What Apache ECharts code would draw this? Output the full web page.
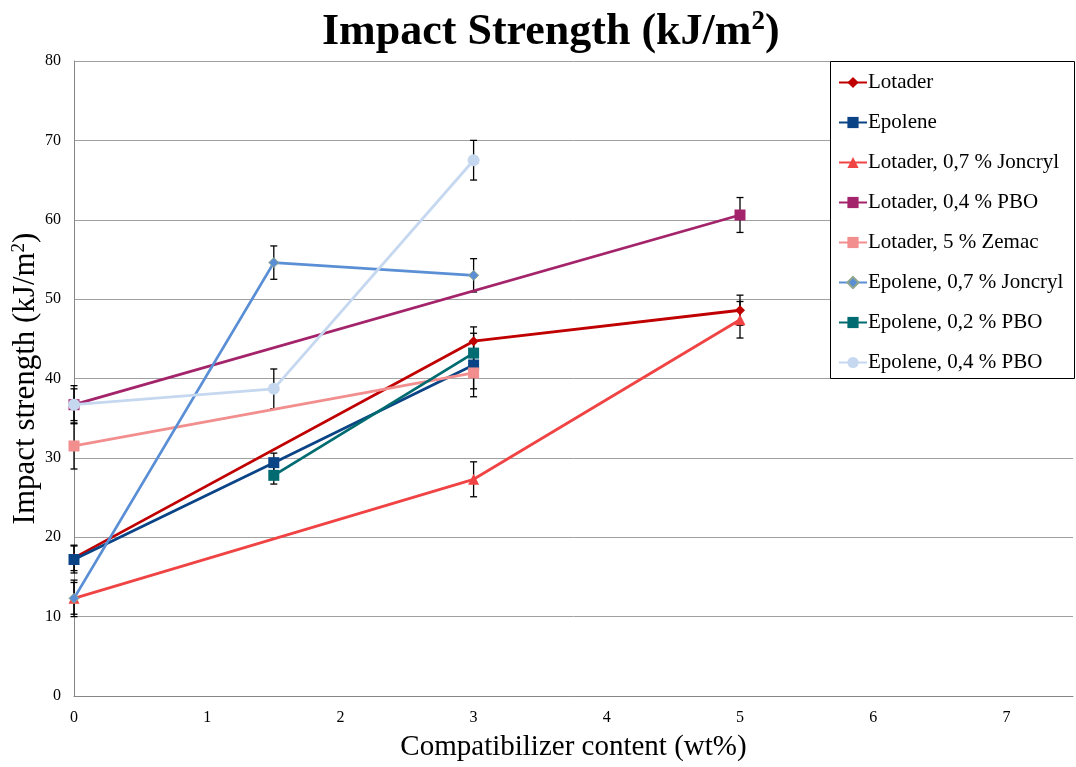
<!DOCTYPE html>
<html>
<head>
<meta charset="utf-8">
<script src="https://cdn.jsdelivr.net/npm/echarts@6/dist/echarts.min.js"></script>
<style>
  html, body { margin: 0; padding: 0; background: #fff; }
  #chart { width: 1076px; height: 767px; }
</style>
</head>
<body>
<div id="chart"></div>
<script>
// Impact strength vs. compatibilizer content, mean values with standard deviations
const xTicks = [0, 1, 2, 3, 4, 5, 6, 7];

const seriesNames = [
  'Lotader', 'Epolene', 'Lotader, 0,7 % Joncryl', 'Lotader, 0,4 % PBO',
  'Lotader, 5 % Zemac', 'Epolene, 0,7 % Joncryl', 'Epolene, 0,2 % PBO', 'Epolene, 0,4 % PBO'
];

const lotaderX = [0, 3, 5];
const lotaderY = [17.4, 44.7, 48.6];
const lotaderErr = [1.6, 1.8, 1.9];

const epoleneX = [0, 1.5, 3];
const epoleneY = [17.2, 29.4, 41.7];
const epoleneErr = [1.7, 1.2, 4.0];

const lotJoncrylX = [0, 3, 5];
const lotJoncrylY = [12.3, 27.3, 47.4];
const lotJoncrylErr = [2.3, 2.2, 2.3];

const lotPboX = [0, 5];
const lotPboY = [36.7, 60.6];
const lotPboErr = [2.4, 2.2];

const lotZemacX = [0, 3];
const lotZemacY = [31.5, 40.7];
const lotZemacErr = [2.9, 2.0];

const epJoncrylX = [0, 1.5, 3];
const epJoncrylY = [12.3, 54.6, 53.0];
const epJoncrylErr = [2.0, 2.1, 2.1];

const epPbo02X = [1.5, 3];
const epPbo02Y = [27.8, 43.2];
const epPbo02Err = [1.1, 1.5];

const epPbo04X = [0, 1.5, 3];
const epPbo04Y = [36.7, 38.7, 67.5];
const epPbo04Err = [2.0, 2.5, 2.5];

const colors = ['#C00000', '#0B4486', '#F04444', '#A3246A', '#F28E8E', '#5A8FD5', '#006B70', '#C5D8F0'];
const symbols = ['diamond', 'rect', 'triangle', 'rect', 'rect', 'diamond', 'rect', 'circle'];
const symbolSizes = [10, 11, 11, 11, 11, 10, 11, 12];

const allX = [lotaderX, epoleneX, lotJoncrylX, lotPboX, lotZemacX, epJoncrylX, epPbo02X, epPbo04X];
const allY = [lotaderY, epoleneY, lotJoncrylY, lotPboY, lotZemacY, epJoncrylY, epPbo02Y, epPbo04Y];
const allErr = [lotaderErr, epoleneErr, lotJoncrylErr, lotPboErr, lotZemacErr, epJoncrylErr, epPbo02Err, epPbo04Err];

const serif = '"Liberation Serif", "DejaVu Serif", serif';

const lineSeries = seriesNames.map((name, i) => ({
  name: name,
  type: 'line',
  data: allX[i].map((x, j) => [x, allY[i][j]]),
  symbol: symbols[i],
  symbolSize: symbolSizes[i],
  showAllSymbol: true,
  lineStyle: { color: colors[i], width: 2.8 },
  itemStyle: {
    color: colors[i],
    borderColor: i === 5 ? '#8FA68F' : colors[i],
    borderWidth: i === 5 ? 1 : 0
  },
  z: 3 + i * 0.01,
  animation: false
}));

// error bars: [x, low, high]
const errData = [];
allX.forEach((xs, i) => {
  xs.forEach((x, j) => {
    errData.push([x, allY[i][j] - allErr[i][j], allY[i][j] + allErr[i][j]]);
  });
});

const errorSeries = {
  type: 'custom',
  name: 'error',
  data: errData,
  z: 2,
  animation: false,
  renderItem: function (params, api) {
    const x = api.value(0);
    const lo = api.coord([x, api.value(1)]);
    const hi = api.coord([x, api.value(2)]);
    const cap = 3.5;
    const style = { stroke: '#000', lineWidth: 1.3 };
    return {
      type: 'group',
      children: [
        { type: 'line', shape: { x1: lo[0], y1: lo[1], x2: hi[0], y2: hi[1] }, style: style },
        { type: 'line', shape: { x1: lo[0] - cap, y1: lo[1], x2: lo[0] + cap, y2: lo[1] }, style: style },
        { type: 'line', shape: { x1: hi[0] - cap, y1: hi[1], x2: hi[0] + cap, y2: hi[1] }, style: style }
      ]
    };
  }
};

const chart = echarts.init(document.getElementById('chart'), null, { renderer: 'canvas' });
chart.setOption({
  backgroundColor: '#fff',
  animation: false,
  title: {
    text: '{a|Impact Strength (kJ/m}{s|2}{a|)}',
    left: 317,
    top: 3,
    textStyle: {
      rich: {
        a: { fontFamily: serif, fontSize: 44, fontWeight: 'bold', color: '#000', lineHeight: 50 },
        s: { fontFamily: serif, fontSize: 27, fontWeight: 'bold', color: '#000', lineHeight: 50, padding: [0, 0, 22, 0] }
      }
    }
  },
  grid: { left: 74, right: 3, top: 61, bottom: 71, containLabel: false, outerBoundsMode: 'none' },
  legend: {
    orient: 'vertical',
    left: 833,
    top: 67,
    itemGap: 19,
    itemWidth: 28,
    itemHeight: 14,
    data: seriesNames,
    textStyle: { fontFamily: serif, fontSize: 21, lineHeight: 20, color: '#000', padding: [0, 0, 0, -4] },
    z: 20
  },
  graphic: [{
    type: 'rect',
    shape: { x: 830.5, y: 61.5, width: 244, height: 317 },
    style: { fill: '#fff', stroke: '#000', lineWidth: 1 },
    z: 15
  }],
  xAxis: {
    type: 'value',
    min: 0,
    max: 7.5,
    interval: 1,
    name: 'Compatibilizer content (wt%)',
    nameLocation: 'middle',
    nameGap: 37,
    nameMoveOverlap: false,
    nameTextStyle: { fontFamily: serif, fontSize: 29, color: '#000' },
    axisLine: { show: true, lineStyle: { color: '#868686', width: 1 } },
    axisTick: { show: false },
    splitLine: { show: false },
    axisLabel: {
      fontFamily: serif, fontSize: 16, color: '#000', margin: 14,
      formatter: v => (xTicks.indexOf(v) >= 0 ? String(v) : '')
    }
  },
  yAxis: {
    type: 'value',
    min: 0,
    max: 80,
    interval: 10,
    name: '{a|Impact strength (kJ/m}{s|2}{a|)}',
    nameLocation: 'middle',
    nameGap: 31,
    nameMoveOverlap: false,
    nameRotate: 90,
    nameTextStyle: {
      rich: {
        a: { fontFamily: serif, fontSize: 31, color: '#000', lineHeight: 34 },
        s: { fontFamily: serif, fontSize: 19, color: '#000', lineHeight: 34, padding: [0, 0, 14, 0] }
      }
    },
    axisLine: { show: true, lineStyle: { color: '#868686', width: 1 } },
    axisTick: { show: false },
    splitLine: { show: true, lineStyle: { color: '#A0A0A0', width: 1 } },
    axisLabel: { fontFamily: serif, fontSize: 16, color: '#000', margin: 13 }
  },
  series: [errorSeries].concat(lineSeries)
});
</script>
</body>
</html>
